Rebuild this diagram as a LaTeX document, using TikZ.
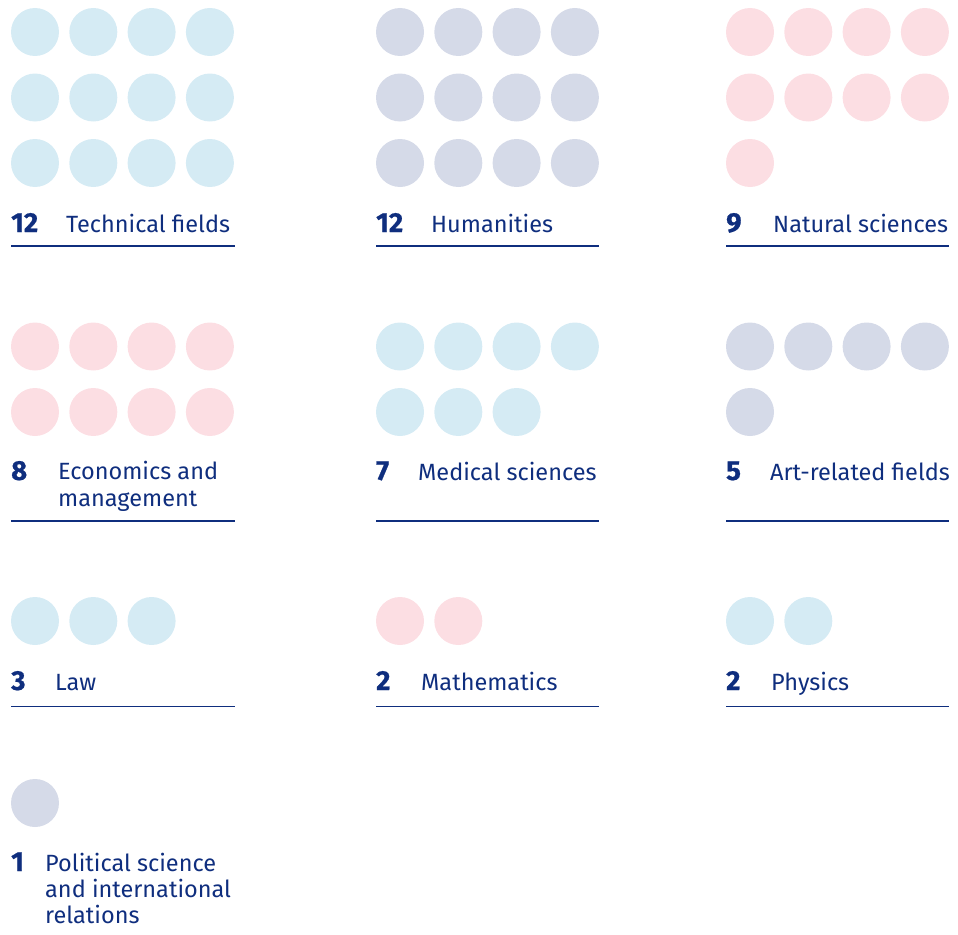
\documentclass[tikz,border=0pt]{standalone}
\usepackage{fontspec}
\setmainfont{Fira Sans}
\newfontfamily\numfont[BoldFeatures={FakeBold=0.7}]{Fira Sans}
\definecolor{navy}{HTML}{0F2E7E}
\definecolor{cblue}{HTML}{D5EBF4}
\definecolor{cgray}{HTML}{D5DAE8}
\definecolor{cpink}{HTML}{FCDEE3}
\newcommand{\dotgrid}[5]{% #1 x0, #2 y first row, #3 count, #4 color, #5 prefix
  \foreach \k in {1,...,#3}{
    \pgfmathtruncatemacro{\row}{(\k-1)/4}
    \pgfmathtruncatemacro{\col}{mod(\k-1,4)}
    \node[dot=#4] (#5\k) at ({#1+24+58.3*\col},{#2+65.5*\row}) {};
  }}
\begin{document}
\begin{tikzpicture}[x=1pt,y=-1pt,
  dot/.style={circle,inner sep=0pt,minimum size=48pt,fill=#1},
  num/.style={anchor=base west,inner sep=0pt,text=navy,font=\numfont\fontsize{27.5}{30}\selectfont\bfseries},
  lab/.style={anchor=base west,inner sep=0pt,text=navy,align=left,font=\fontsize{23.5}{26.2}\selectfont},
  rule/.style={draw=navy,line width=1.3pt}]
\useasboundingbox (0,0) rectangle (958,934);
% Row 1
\dotgrid{11}{32}{12}{cblue}{t}
\node[num] (tn) at (11,232) {12};
\node[lab] (tl) at (66,232) {Technical fields};
\coordinate (ta) at (11,246); \coordinate (tb) at (235,246);
\draw[rule] (ta) -- (tb);

\dotgrid{376}{32}{12}{cgray}{h}
\node[num] (hn) at (376,232) {12};
\node[lab] (hl) at (431,232) {Humanities};
\coordinate (ha) at (376,246); \coordinate (hb) at (599,246);
\draw[rule] (ha) -- (hb);

\dotgrid{726}{32}{9}{cpink}{n}
\node[num] (nn) at (726,232) {9};
\node[lab] (nl) at (773,232) {Natural sciences};
\coordinate (na) at (726,246); \coordinate (nb) at (949,246);
\draw[rule] (na) -- (nb);

% Row 2
\dotgrid{11}{346.5}{8}{cpink}{e}
\node[num] (en) at (11,480) {8};
\node[lab] (el) at (58,506) {Economics and\\management};
\coordinate (ea) at (11,521); \coordinate (eb) at (235,521);
\draw[rule] (ea) -- (eb);

\dotgrid{376}{346.5}{7}{cblue}{m}
\node[num] (mn) at (376,480) {7};
\node[lab] (ml) at (418,480) {Medical sciences};
\coordinate (ma) at (376,521); \coordinate (mb) at (599,521);
\draw[rule] (ma) -- (mb);

\dotgrid{726}{346.5}{5}{cgray}{a}
\node[num] (an) at (726,480) {5};
\node[lab] (al) at (770,480) {Art-related fields};
\coordinate (aa) at (726,521); \coordinate (ab) at (949,521);
\draw[rule] (aa) -- (ab);

% Row 3
\dotgrid{11}{621}{3}{cblue}{l}
\node[num] (ln) at (11,690) {3};
\node[lab] (ll) at (55,690) {Law};
\coordinate (la) at (11,706.5); \coordinate (lb) at (235,706.5);
\draw[rule] (la) -- (lb);

\dotgrid{376}{621}{2}{cpink}{x}
\node[num] (xn) at (376,690) {2};
\node[lab] (xl) at (421,690) {Mathematics};
\coordinate (xa) at (376,706.5); \coordinate (xb) at (599,706.5);
\draw[rule] (xa) -- (xb);

\dotgrid{726}{621}{2}{cblue}{p}
\node[num] (pn) at (726,690) {2};
\node[lab] (pl) at (771,690) {Physics};
\coordinate (pa) at (726,706.5); \coordinate (pb) at (949,706.5);
\draw[rule] (pa) -- (pb);

% Row 4
\dotgrid{11}{803}{1}{cgray}{s}
\node[num] (sn) at (11,871) {1};
\node[lab] (sl) at (45,923.4) {Political science\\and international\\relations};
\end{tikzpicture}
\end{document}
